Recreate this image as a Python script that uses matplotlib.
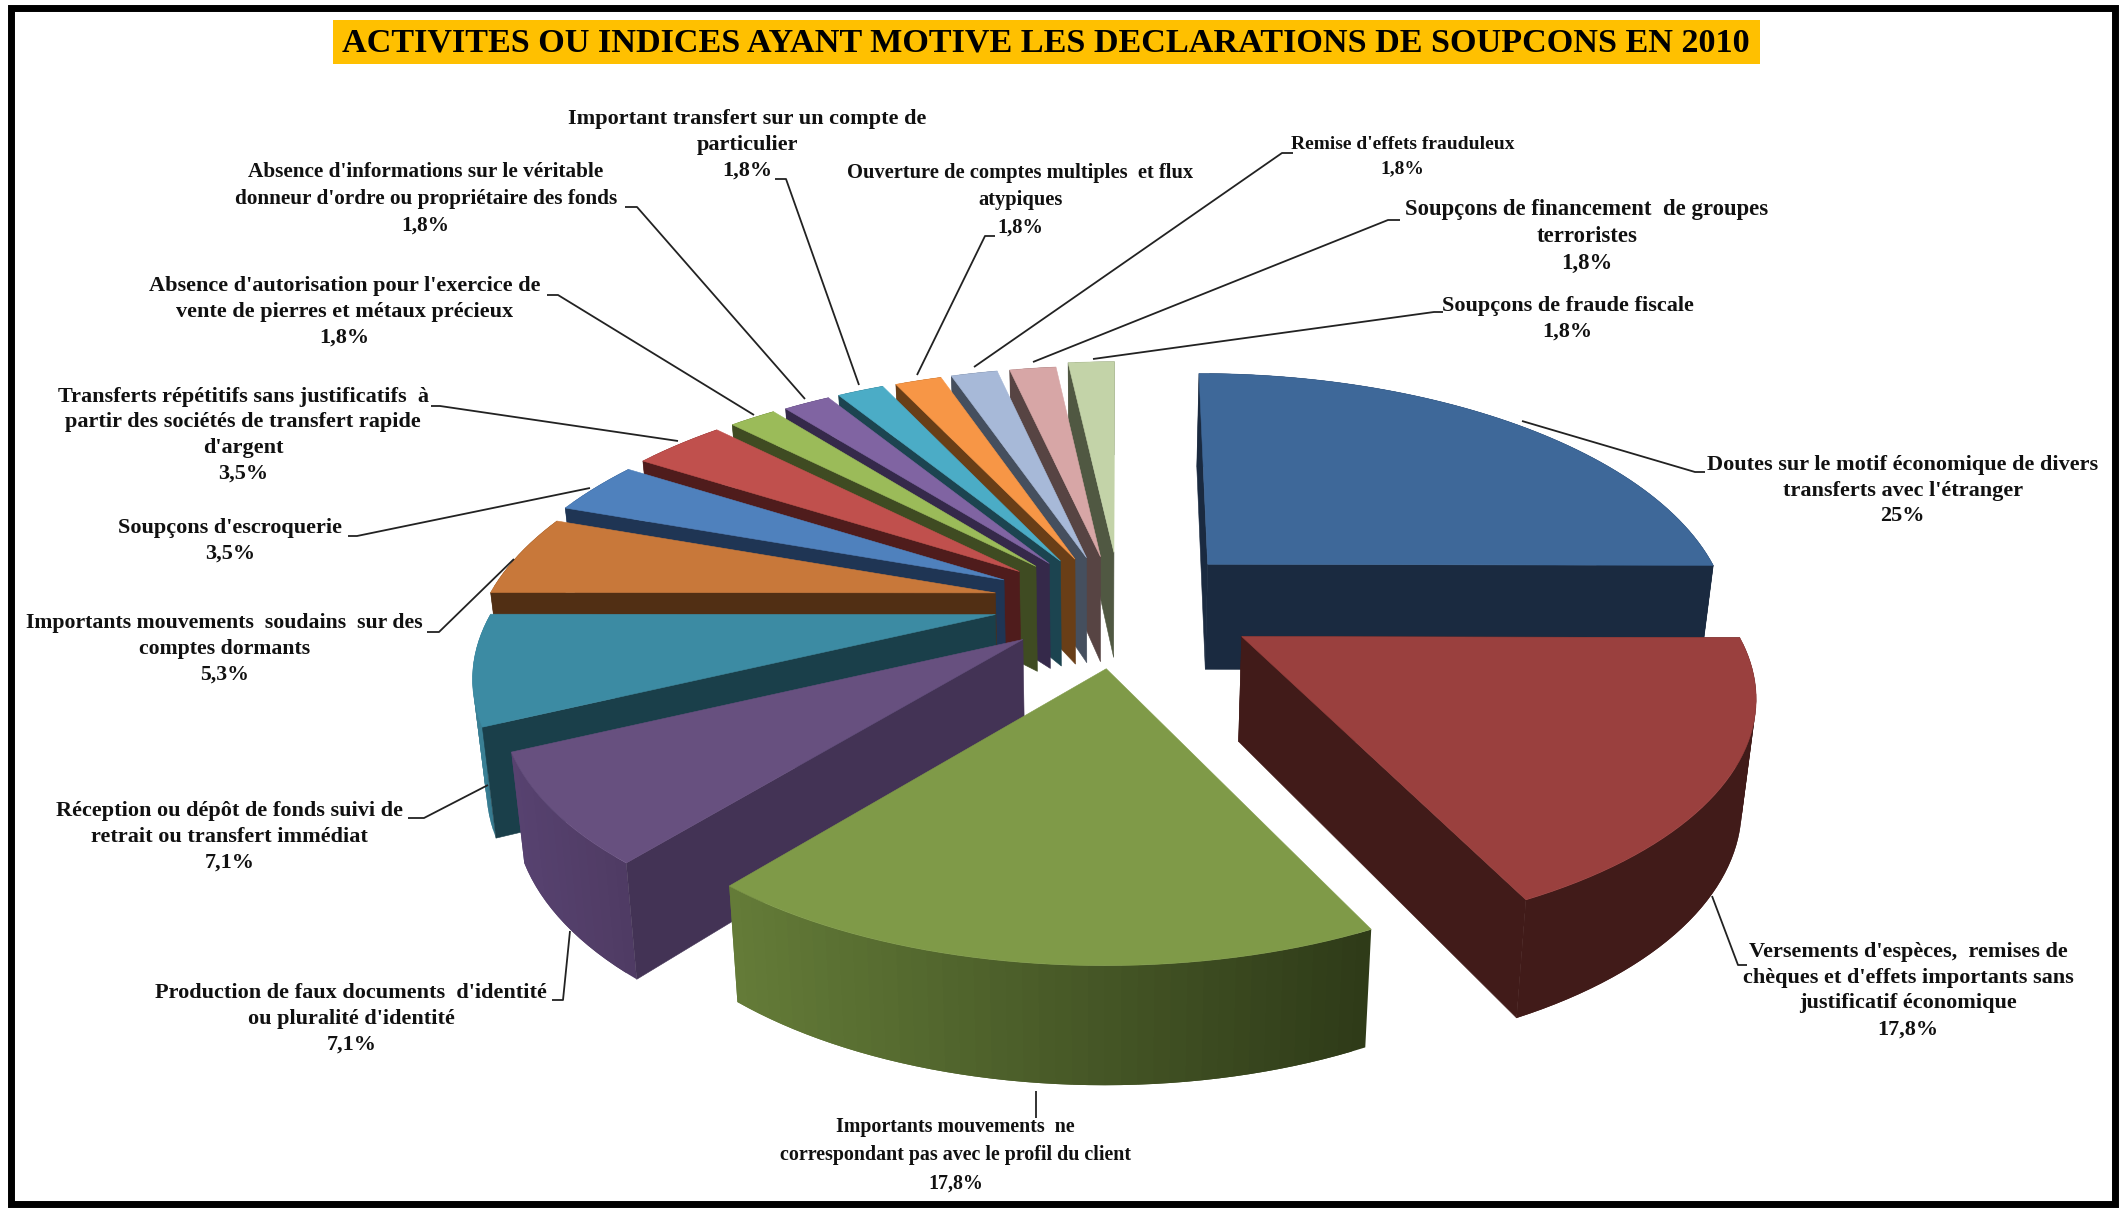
import numpy as np
import matplotlib
matplotlib.use("Agg")
import matplotlib.pyplot as plt
from matplotlib.patches import Polygon, Rectangle
from matplotlib.colors import to_rgb

labels = [
    "Doutes sur le motif économique de divers\ntransferts avec l'étranger",
    "Versements d'espèces,  remises de\nchèques et d'effets importants sans\njustificatif économique",
    "Importants mouvements  ne\ncorrespondant pas avec le profil du client",
    "Production de faux documents  d'identité\nou pluralité d'identité",
    "Réception ou dépôt de fonds suivi de\nretrait ou transfert immédiat",
    "Importants mouvements  soudains  sur des\ncomptes dormants",
    "Soupçons d'escroquerie",
    "Transferts répétitifs sans justificatifs  à\npartir des sociétés de transfert rapide\nd'argent",
    "Absence d'autorisation pour l'exercice de\nvente de pierres et métaux précieux",
    "Absence d'informations sur le véritable\ndonneur d'ordre ou propriétaire des fonds",
    "Important transfert sur un compte de\nparticulier",
    "Ouverture de comptes multiples  et flux\natypiques",
    "Remise d'effets frauduleux",
    "Soupçons de financement  de groupes\nterroristes",
    "Soupçons de fraude fiscale",
]
values = [25, 17.8, 17.8, 7.1, 7.1, 5.3, 3.5, 3.5, 1.8, 1.8, 1.8, 1.8, 1.8, 1.8, 1.8]
value_text = ["25%", "17,8%", "17,8%", "7,1%", "7,1%", "5,3%", "3,5%", "3,5%",
              "1,8%", "1,8%", "1,8%", "1,8%", "1,8%", "1,8%", "1,8%"]
top_colors = ["#3E6899", "#9A403E", "#7F9A48", "#67507F", "#3C8BA3", "#C8783A", "#4F81BD",
              "#C0504D", "#9BBB59", "#8064A2", "#4BACC6", "#F79646", "#A7B9D8", "#D7A6A6", "#C3D3A8"]
face_colors = ["#1A2A40", "#411B19", "#3A4A20", "#433355", "#1A3F4A", "#512F14", "#1F3554",
               "#4F1C1C", "#3F4B22", "#35294A", "#1C4450", "#693E17", "#454F5E", "#574443", "#505842"]
rim_left = ["#1A2A40", "#411B19", "#647C38", "#574270", "#3A8095", "#512F14", "#1F3554",
            "#4F1C1C", "#3F4B22", "#35294A", "#1C4450", "#693E17", "#454F5E", "#574443", "#505842"]
rim_right = ["#1A2A40", "#411B19", "#2E3A18", "#4F3B63", "#327186", "#512F14", "#1F3554",
             "#4F1C1C", "#3F4B22", "#35294A", "#1C4450", "#693E17", "#454F5E", "#574443", "#505842"]
title = "ACTIVITES OU INDICES AYANT MOTIVE LES DECLARATIONS DE SOUPCONS EN 2010"

# projection of the tilted pie
W, H = 2119, 1208
CX, CY = 1120, 602
A, B, K = 505, 235, 0.232
DEPTH, DEPTH_K, SHRINK, VX = 105, 0.125, 0.978, 1100
explode_x = [0.285, 0.25, 0.18, 0.21, 0.24, 0.26, 0.28, 0.29, 0.29, 0.285, 0.29, 0.28, 0.29, 0.28, 0.26]
explode_y = [0.265, 0.24, 0.22, 0.22, 0.23, 0.24, 0.24, 0.24, 0.24, 0.24, 0.24, 0.24, 0.24, 0.24, 0.26]
radius = [1.0, 0.985, 0.977, 1.0, 1.0, 1.0, 1.0, 1.0, 1.0, 1.0, 1.0, 1.0, 1.0, 1.0, 1.0]
draw_order = [0, 14, 13, 12, 11, 10, 9, 8, 7, 6, 5, 4, 3, 1, 2]

fig = plt.figure(figsize=(W / 100, H / 100), dpi=100, facecolor="white")
ax = fig.add_axes([0, 0, 1, 1])
ax.set_xlim(0, W)
ax.set_ylim(H, 0)
ax.axis("off")

frac = np.array(values) / np.sum(values)
edges = np.concatenate([[0], np.cumsum(frac)]) * 2 * np.pi


def project(r, th, ox, oy, bottom=False):
    X, Y = r * np.sin(th), r * np.cos(th)
    w = 1 + K * Y
    sx = CX + ox / np.sqrt(w) + A * X / w
    sy = CY + oy - B * Y / w
    if bottom:
        sy = sy + DEPTH / (1 + DEPTH_K * Y)
        sx = VX + (sx - VX) * SHRINK
    return np.array([sx, sy])


def mix(c1, c2, t):
    a, b = np.array(to_rgb(c1)), np.array(to_rgb(c2))
    return tuple(a + (b - a) * t)


def poly(pts, color, z, lw=0.4):
    ax.add_patch(Polygon(np.array(pts), closed=True, facecolor=color, edgecolor=color,
                         linewidth=lw, zorder=z))


z = 2.0
for i in draw_order:
    t0, t1 = edges[i], edges[i + 1]
    tm = (t0 + t1) / 2
    wm = 1 + K * np.cos(tm)
    ox = explode_x[i] * A * np.sin(tm) / wm
    oy = -explode_y[i] * B * np.cos(tm) / wm
    arc = np.linspace(t0, t1, max(8, int((t1 - t0) * 40)))
    top_arc = [project(radius[i], t, ox, oy) for t in arc]
    bot_arc = [project(radius[i], t, ox, oy, True) for t in arc]
    apex_t = project(0, 0, ox, oy)
    apex_b = project(0, 0, ox, oy, True)
    xs = [p[0] for p in top_arc]
    xmin, xmax = min(xs), max(xs)
    # outer rim, shaded across its width; each quad overlaps the next to hide seams
    n = len(arc)
    for j in range(n - 1):
        f = ((top_arc[j][0] + top_arc[j + 1][0]) / 2 - xmin) / max(xmax - xmin, 1)
        e = min(j + 2, n - 1)
        poly(top_arc[j:e + 1] + bot_arc[j:e + 1][::-1], mix(rim_left[i], rim_right[i], f), z, lw=0)
    z += 0.01
    # cut faces
    if i != 2:
        poly([apex_t, top_arc[0], bot_arc[0], apex_b], face_colors[i], z)
        if i < 2:
            poly([apex_t, top_arc[-1], bot_arc[-1], apex_b], face_colors[i], z)
    z += 0.01
    # top face
    poly([apex_t] + top_arc, top_colors[i], z)
    z += 0.01

# frame and title band
ax.add_patch(Rectangle((11, 7.5), 2104, 1196, fill=False, edgecolor="black", linewidth=5, zorder=50))
ax.add_patch(Rectangle((333, 20), 1427, 44, facecolor="#FFC000", edgecolor="none", zorder=50))
ax.text(1046, 43, title, ha="center", va="center", fontsize=24.6, fontweight="bold",
        family="Liberation Serif", color="black", zorder=51)

# data labels
S = W / 1568
label_pos = [(1408, 363), (1412, 733), (707, 855), (260, 754), (170, 619), (166, 480), (170, 400),
             (180, 322), (255, 231), (315, 147), (553, 107), (755, 148), (1038, 116), (1174, 175), (1160, 236)]
label_size = [16, 16, 14.4, 16, 16, 15.7, 16, 16, 16, 15.3, 16, 14.8, 14, 16.4, 16]
for lab, val, (x, y), fs in zip(labels, value_text, label_pos, label_size):
    ax.text(x * S, y * S, lab + "\n" + val, ha="center", va="center", fontsize=fs, fontweight="bold",
            family="Liberation Serif", color="#111111", linespacing=1.38 * 16 / fs, zorder=40)

# leader lines
leaders = [
    [(1522, 421), (1695, 472), (1705, 472)],
    [(1712, 896), (1738, 965), (1747, 965)],
    [(1036, 1091), (1036, 1118)],
    [(570, 931), (563, 1000), (552, 1000)],
    [(488, 785), (424, 818), (408, 818)],
    [(514, 559), (439, 632), (427, 632)],
    [(590, 488), (357, 536), (348, 536)],
    [(678, 441), (440, 406), (431, 406)],
    [(754, 415), (558, 295), (547, 295)],
    [(805, 399), (637, 207), (625, 207)],
    [(859, 385), (786, 179), (775, 179)],
    [(917, 375), (985, 236), (995, 236)],
    [(974, 367), (1282, 153), (1293, 153)],
    [(1033, 362), (1388, 220), (1400, 220)],
    [(1093, 359), (1434, 312), (1443, 312)],
]
for pts in leaders:
    px, py = zip(*pts)
    ax.plot(px, py, color="#222222", lw=1.3, solid_capstyle="butt", zorder=41)

fig.savefig("out.png", dpi=100, facecolor="white")
